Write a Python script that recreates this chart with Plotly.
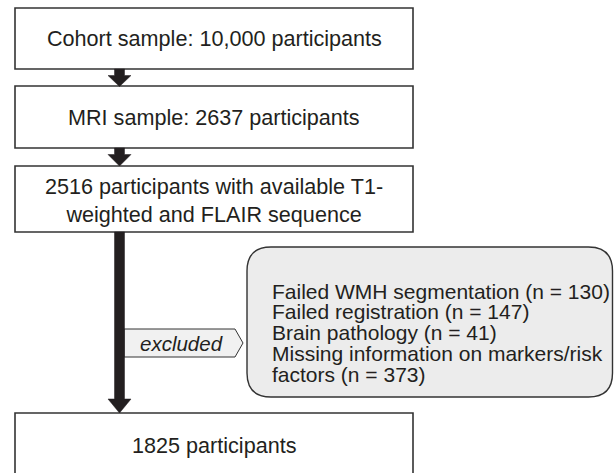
import plotly.graph_objects as go

# ---- data ----
stage_labels = ["Cohort sample", "MRI sample", "participants with available T1-weighted and FLAIR sequence", "participants"]
stage_counts = [10000, 2637, 2516, 1825]
exclusion_reasons = ["Failed WMH segmentation", "Failed registration", "Brain pathology",
                     "Missing information on markers/risk factors"]
exclusion_counts = [130, 147, 41, 373]
exclusion_label = "excluded"

W, H = 614, 473
INK = "#231f20"
FONT = "Liberation Sans, Arial, Helvetica, sans-serif"

fig = go.Figure()
fig.add_trace(go.Scatter(x=[0, W], y=[0, H], mode="markers", marker=dict(opacity=0), hoverinfo="skip", showlegend=False))

# box geometry
bx0, bx1 = 15, 413
boxes = [(8, 69), (86, 148), (166, 232), (413, 490)]
box_texts = [
    f"{stage_labels[0]}: {stage_counts[0]:,} participants",
    f"{stage_labels[1]}: {stage_counts[1]} participants",
    f"{stage_counts[2]} participants with available T1-<br>weighted and FLAIR sequence",
    f"{stage_counts[3]} {stage_labels[3]}",
]
text_y = [38.5, 117, 200, 445]

shapes = []
for (y0, y1) in boxes:
    shapes.append(dict(type="rect", x0=bx0, x1=bx1, y0=y0, y1=y1,
                       line=dict(color="#333333", width=1.6), fillcolor="white", layer="below"))

cx = 119.5
def arrow(y_start, y_head, y_tip, shaft_half=5, head_half=11.5):
    p = (f"M {cx-shaft_half} {y_start} L {cx+shaft_half} {y_start} L {cx+shaft_half} {y_head} "
         f"L {cx+head_half} {y_head} L {cx} {y_tip} L {cx-head_half} {y_head} L {cx-shaft_half} {y_head} Z")
    return dict(type="path", path=p, fillcolor=INK, line=dict(color=INK, width=0.5))

# excluded tag
tag = "M 124 329 L 235 329 L 243 343 L 235 357 L 124 357 Z"
shapes.append(dict(type="path", path=tag, fillcolor="#f1f1f1", line=dict(color="#333333", width=1)))

shapes.append(arrow(69, 75.5, 86.5))
shapes.append(arrow(148, 154.5, 166))
shapes.append(arrow(232, 399, 413))

# rounded exclusion box
rx0, rx1, ry0, ry1, r = 247, 612.5, 247, 397, 24
rp = (f"M {rx0+r} {ry0} L {rx1-r} {ry0} Q {rx1} {ry0} {rx1} {ry0+r} L {rx1} {ry1-r} "
      f"Q {rx1} {ry1} {rx1-r} {ry1} L {rx0+r} {ry1} Q {rx0} {ry1} {rx0} {ry1-r} "
      f"L {rx0} {ry0+r} Q {rx0} {ry0} {rx0+r} {ry0} Z")
shapes.append(dict(type="path", path=rp, fillcolor="#ececec", line=dict(color="#333333", width=1.4)))

annotations = []
for t, y in zip(box_texts, text_y):
    annotations.append(dict(x=(bx0 + bx1) / 2, y=y, text=t, showarrow=False, xanchor="center", yanchor="middle",
                            font=dict(family=FONT, size=21.6, color=INK), align="center"))

annotations.append(dict(x=138, y=343, text=f"<i>{exclusion_label}</i>", showarrow=False, xanchor="left", yanchor="middle",
                        font=dict(family=FONT, size=20.5, color=INK)))

lines = []
for reason, n in zip(exclusion_reasons, exclusion_counts):
    if reason.startswith("Missing"):
        lines.append("Missing information on markers/risk")
        lines.append(f"factors (n = {n})")
    else:
        lines.append(f"{reason} (n = {n})")
line_y0, dy = 291, 20.9
for i, ln in enumerate(lines):
    annotations.append(dict(x=270, y=line_y0 + i * dy, text=ln, showarrow=False, xanchor="left", yanchor="middle",
                            font=dict(family=FONT, size=21, color=INK)))

fig.update_layout(
    width=W, height=H, margin=dict(l=0, r=0, t=0, b=0),
    paper_bgcolor="white", plot_bgcolor="white",
    xaxis=dict(range=[0, W], visible=False, fixedrange=True),
    yaxis=dict(range=[H, 0], visible=False, fixedrange=True),
    shapes=shapes, annotations=annotations, showlegend=False,
)
fig.write_html("out.html", config={"displayModeBar": False},
               post_script="document.body.style.margin='0';document.body.style.overflow='hidden';")
